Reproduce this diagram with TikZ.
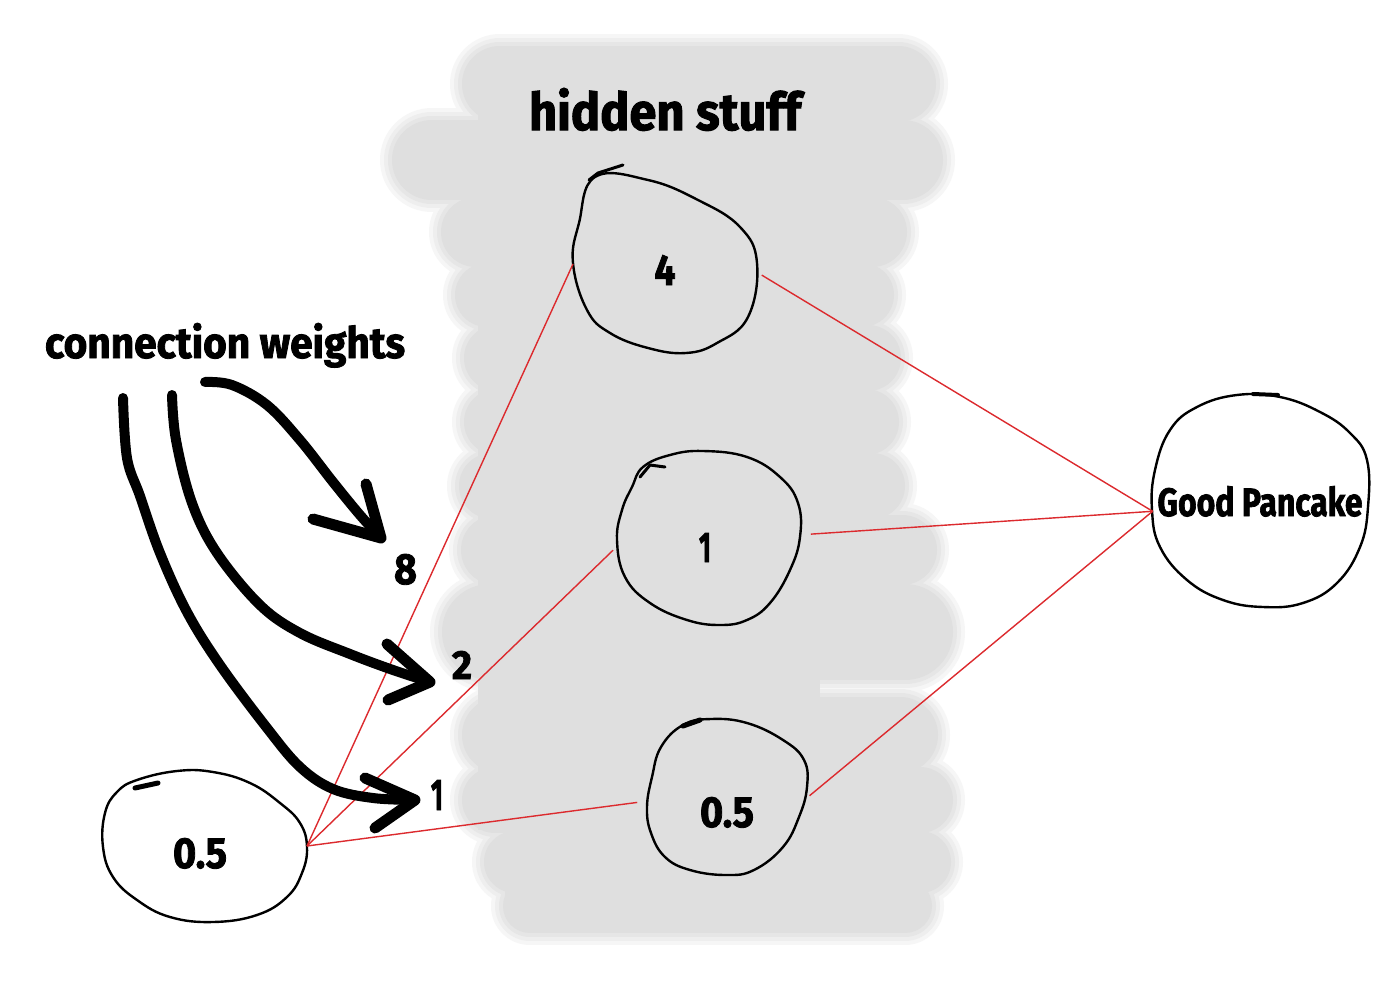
\documentclass[tikz,border=0pt]{standalone}
\usepackage{fontspec}
\setmainfont{Fira Sans}
\newfontfamily\handfont[FakeBold=2]{Fira Sans Bold}
\usepackage{graphicx}
\usetikzlibrary{shapes.geometric}
\definecolor{blobgray}{HTML}{DFDFDF}
\definecolor{blobedgeA}{HTML}{F6F6F6}
\definecolor{blobedgeB}{HTML}{EEEEEE}
\definecolor{blobedgeC}{HTML}{E6E6E6}
\definecolor{wirered}{HTML}{DC2A2E}
\newcommand\handtxt[3]{\resizebox{#1pt}{#2pt}{\handfont #3}}
\newcommand\blobpass[2]{%
  \foreach \yy/\xa/\xb/\ww in {84/500/898/76,160/432/903/80,232/476/872/70,295/487/862/64,358/497/868/66,422/497/866/66,486/492/872/66,550/496/902/70,632/490/905/96,735/500/900/76,800/495/920/66,862/515/920/62,906/530/905/54}{%
    \pgfmathsetmacro\lw{\ww+#1}%
    \draw[line cap=round, line width=\lw pt, color=#2] (\xa,\yy) -- (\xb,\yy);}}
\tikzset{
  hub/.style={ellipse, inner sep=0pt, outer sep=0pt, draw=none},
  pen/.style={draw=black, line width=2.4pt, line join=round},
  flick/.style={draw=black, line cap=round, line join=round},
  wire/.style={draw=wirered, line width=1.4pt},
  arrowpen/.style={draw=black, line width=10pt, line cap=round, line join=round},
  headpen/.style={draw=black, line width=11pt, line cap=round, line join=round},
  lbl/.style={anchor=base west, inner sep=0pt, outer sep=0pt}
}
\begin{document}
\begin{tikzpicture}[x=1pt, y=-1pt]
\useasboundingbox[fill=white] (0,0) rectangle (1400,998);
% gray smeared background
\blobpass{24}{blobedgeA}
\blobpass{16}{blobedgeB}
\blobpass{8}{blobedgeC}
\blobpass{0}{blobgray}
\fill[blobgray] (478,80) rectangle (820,830);
\fill[blobgray] (505,830) rectangle (820,905);

% titles
\node[lbl] (title) at (529,130) {\handtxt{272}{42}{hidden stuff}};
\node[lbl] (cw) at (45,358) {\handtxt{360}{35}{connection weights}};

% nodes
\node[hub, minimum width=204pt, minimum height=152pt, text height=44pt, text depth=0pt] (in) at (205,846) {\makebox[0pt]{\handtxt{54}{30}{0.5}\hspace*{10pt}}};
\node[hub, minimum width=184pt, minimum height=178pt, text height=42pt, text depth=0pt] (h4) at (665,264) {\makebox[0pt]{\handtxt{21}{30}{4}}};
\node[hub, minimum width=184pt, minimum height=174pt, text height=48pt, text depth=0pt] (h1) at (709,538) {\makebox[0pt]{\handtxt{12}{29}{1}\hspace*{8pt}}};
\node[hub, minimum width=162pt, minimum height=156pt, text height=60pt, text depth=0pt] (h05) at (727,797) {\makebox[0pt]{\handtxt{54}{30}{0.5}}};
\node[hub, minimum width=216pt, minimum height=214pt, text height=32pt, text depth=0pt] (out) at (1260,500) {\makebox[0pt]{\handtxt{205}{30}{Good Pancake}}};

% hand-drawn outlines
\draw[pen, shift={(in.center)}] plot[smooth cycle, tension=0.7] coordinates {(-88,-54) (-68,-66) (-28,-75) (8,-74) (45,-63) (75,-43) (95,-23) (102,1) (97,27) (82,51) (52,69) (8,76) (-35,71) (-68,54) (-92,31) (-102,1) (-100,-33)};
\draw[pen, shift={(h4.center)}] plot[smooth cycle, tension=0.7] coordinates {(-70,-87) (-17,-84) (33,-64) (75,-37) (92,-1) (83,53) (52,79) (21,89) (-17,84) (-55,69) (-78,46) (-92,-1) (-86,-41)};
\draw[pen, shift={(h1.center)}] plot[smooth cycle, tension=0.7] coordinates {(-66,-71) (-39,-83) (-6,-87) (38,-81) (71,-61) (89,-35) (91,-1) (81,32) (61,65) (38,82) (11,87) (-22,82) (-59,65) (-84,39) (-92,2) (-87,-28) (-77,-51)};
\draw[pen, shift={(h05.center)}] plot[smooth cycle, tension=0.7] coordinates {(-44,-72) (-16,-78) (20,-74) (56,-57) (77,-37) (80,-10) (72,20) (56,50) (27,73) (-1,78) (-37,73) (-62,60) (-76,36) (-80,10) (-75,-20) (-66,-50)};
\draw[pen, shift={(out.center)}] plot[smooth cycle, tension=0.7] coordinates {(-90,-70) (-63,-93) (-23,-105) (20,-103) (60,-88) (90,-67) (107,-40) (108,7) (100,47) (77,83) (43,103) (3,107) (-37,100) (-73,80) (-100,47) (-108,10) (-105,-30)};
% pen start flicks
\draw[flick, line width=3pt] (589,180) -- (598,173) -- (623,165);
\draw[flick, line width=5pt] (135,788) -- (158,783);
\draw[flick, line width=3pt] (640,477) -- (650,465) -- (665,467);
\draw[flick, line width=5pt] (683,726) -- (700,720);
\draw[flick, line width=4pt] (1253,394) -- (1278,395);

% red connections
\draw[wire] (in.east) -- (h4.west);
\draw[wire, shorten >=6pt] (in.east) -- (h1.185);
\draw[wire, shorten >=9pt] (in.east) -- (h05.183);
\draw[wire, shorten <=6pt] (h4.355) -- (out.186);
\draw[wire, shorten <=10pt] (h1.2) -- (out.186);
\draw[wire, shorten <=2pt] (h05.east) -- (out.186);

% weight labels
\node[lbl] (w8) at (394,584) {\handtxt{23}{30}{8}};
\node[lbl] (w2) at (452,679) {\handtxt{20}{28}{2}};
\node[lbl] (w1) at (431,810) {\handtxt{12}{30}{1}};

% black hand-drawn arrows
\coordinate (a8s) at (205,382);
\coordinate (a8t) at (381,538);
\coordinate (a2s) at (172,395);
\coordinate (a2t) at (430,682);
\coordinate (a1s) at (123,398);
\coordinate (a1t) at (415,800);
\draw[arrowpen] plot[smooth, tension=0.6] coordinates {(a8s) (232,385) (267,405) (300,440) (333,482) (360,515) (a8t)};
\draw[headpen] (366,484) -- (a8t) -- (313,519);
\draw[arrowpen] plot[smooth, tension=0.6] coordinates {(a2s) (176,440) (192,503) (217,553) (260,605) (300,633) (350,654) (393,670) (a2t)};
\draw[headpen] (387,644) -- (a2t) -- (388,700);
\draw[arrowpen] plot[smooth, tension=0.6] coordinates {(a1s) (127,458) (140,496) (160,553) (187,612) (220,665) (267,728) (300,767) (333,789) (373,798) (a1t)};
\draw[headpen] (365,778) -- (a1t) -- (375,828);
\end{tikzpicture}
\end{document}
